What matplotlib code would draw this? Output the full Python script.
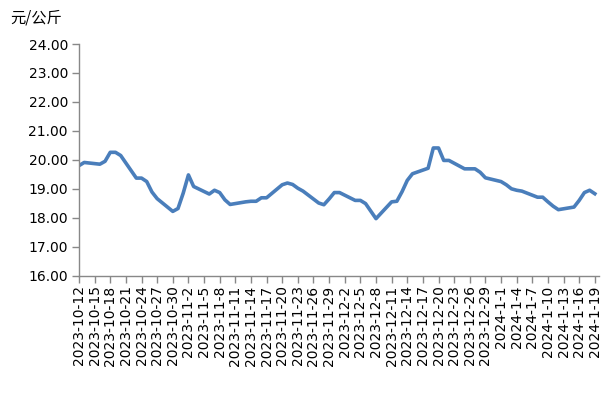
import matplotlib
matplotlib.use("Agg")
import matplotlib.pyplot as plt
import matplotlib.dates as mdates
import numpy as np
import pandas as pd

plt.rcParams['font.family'] = ['DejaVu Sans', 'Noto Sans CJK SC']

# 交易日数据（2023-10-12 起的天数偏移, 价格 元/公斤）
day_offset = [0, 1, 4, 5, 6, 7, 8, 11, 12, 13, 14, 15, 18, 19, 20, 21, 22,
              25, 26, 27, 28, 29, 32, 33, 34, 35, 36, 39, 40, 41, 42, 43,
              46, 47, 48, 49, 50, 53, 54, 55, 56, 57, 60, 61, 62, 63, 64,
              67, 68, 69, 70, 71, 74, 75, 76, 77, 78, 81, 82, 83, 84, 85,
              88, 89, 90, 91, 92, 95, 96, 97, 98, 99]
price = [19.80, 19.91, 19.85, 19.95, 20.26, 20.26, 20.15, 19.37, 19.37, 19.25,
         18.89, 18.66, 18.22, 18.32, 18.85, 19.48, 19.08,
         18.82, 18.95, 18.87, 18.62, 18.46, 18.55, 18.57, 18.57, 18.69, 18.69,
         19.14, 19.20, 19.15, 19.02, 18.92,
         18.51, 18.45, 18.65, 18.87, 18.87, 18.60, 18.60, 18.49, 18.23, 17.97,
         18.55, 18.57, 18.90, 19.29, 19.52,
         19.71, 20.41, 20.41, 19.98, 19.98, 19.69, 19.69, 19.69, 19.57, 19.38,
         19.25, 19.14, 19.00, 18.95, 18.92,
         18.71, 18.71, 18.55, 18.40, 18.28, 18.37, 18.60, 18.87, 18.95, 18.83]

start = pd.Timestamp('2023-10-12')
dates = [start + pd.Timedelta(days=d) for d in day_offset]
tick_dates = pd.date_range('2023-10-12', '2024-01-19', freq='3D')
tick_labels = [f"{d.year}-{d.month}-{d.day}" for d in tick_dates]
y_ticks = np.arange(16, 24.01, 1)

fig = plt.figure(figsize=(6.14, 3.95), dpi=100)
ax = fig.add_axes([79 / 614, 1 - 275.7 / 395, 520 / 614, (275.7 - 44) / 395])

ax.plot(dates, price, color='#4a7ebb', linewidth=2.6, solid_joinstyle='round')

ax.set_xlim(start, start + pd.Timedelta(days=99.8))
ax.set_ylim(16, 24)
ax.set_yticks(y_ticks)
ax.set_yticklabels([f"{v:.2f}" for v in y_ticks])
ax.set_xticks(tick_dates)
ax.set_xticklabels(tick_labels, rotation=90, va='top', ha='center')

for s in ['top', 'right']:
    ax.spines[s].set_visible(False)
for s in ['left', 'bottom']:
    ax.spines[s].set_color('#888888')
    ax.spines[s].set_linewidth(1)
ax.tick_params(axis='both', color='#888888', length=5, width=1, labelsize=10, labelcolor='black')
ax.tick_params(axis='x', pad=2)
ax.tick_params(axis='y', pad=3)

fig.text(10 / 614, 1 - 18 / 395, '元/公斤', fontsize=11, va='center', ha='left',
         family=['Noto Sans CJK SC', 'DejaVu Sans'])

fig.savefig('out.png', dpi=100)
